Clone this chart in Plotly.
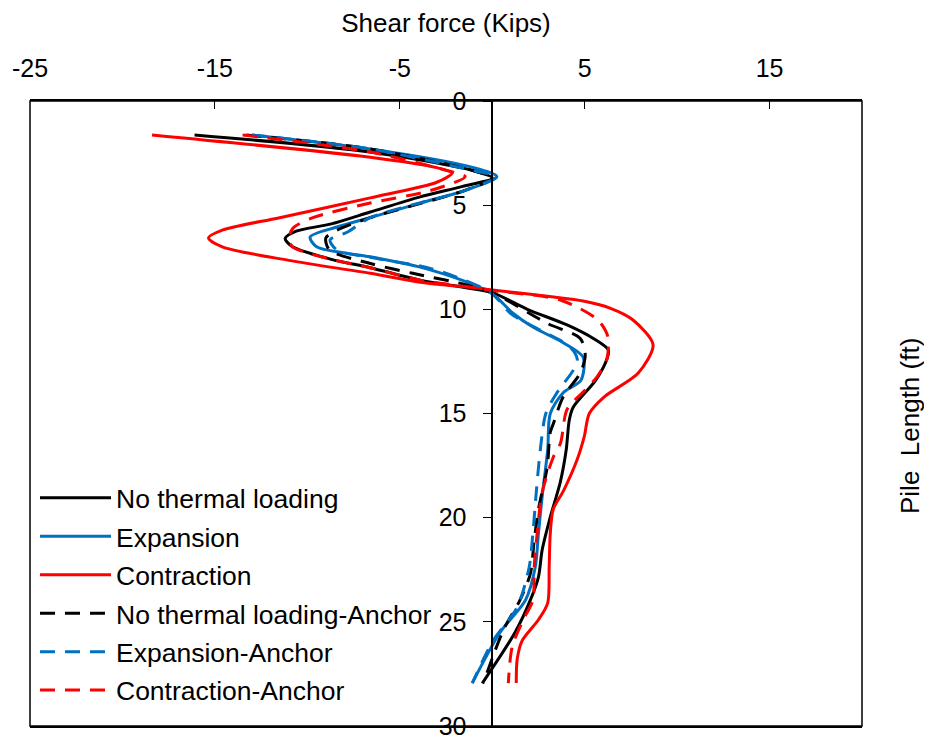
import plotly.graph_objects as go

# Depth (ft) and shear force (kips) for each series
nt_depth = [1.63, 2.45, 3.35, 3.7, 4.1, 4.6, 5.33, 5.9, 6.25, 6.6, 7.0, 7.6, 8.0, 8.6, 8.95, 9.2, 10.0, 10.75, 11.4, 11.95, 12.4, 13.4, 14.7, 15.3, 16.75, 18.3, 19.97, 21.55, 22.85, 23.96, 25.5, 27.95]
nt_shear = [-16.1, -6.6, -1.0, 0.0, -1.6, -3.9, -6.6, -8.7, -10.6, -11.2, -10.8, -8.7, -6.6, -3.9, -1.5, 0.0, 1.9, 4.05, 5.47, 6.28, 6.2, 5.6, 4.38, 4.17, 4.0, 3.68, 3.14, 2.7, 2.5, 2.06, 1.24, -0.54]

ex_depth = [1.63, 2.3, 3.2, 3.63, 4.3, 4.9, 5.6, 6.05, 6.53, 7.0, 7.48, 7.95, 8.65, 9.25, 10.2, 10.85, 11.6, 12.3, 13.4, 14.0, 15.0, 16.75, 19.0, 20.75, 22.37, 23.96, 25.5, 27.94]
ex_shear = [-13.0, -6.6, -1.0, 0.25, -1.5, -3.9, -6.6, -8.4, -9.85, -9.5, -6.6, -4.0, -1.5, 0.0, 1.14, 2.2, 3.84, 4.92, 4.8, 3.84, 3.14, 3.0, 2.7, 2.5, 2.33, 1.8, 0.43, -1.08]

co_depth = [1.63, 2.7, 3.2, 3.46, 3.9, 4.65, 5.6, 6.2, 6.58, 7.0, 7.65, 8.27, 8.7, 8.98, 9.07, 9.6, 9.95, 10.5, 11.7, 13.06, 14.2, 15.0, 16.1, 17.2, 18.7, 19.6, 20.75, 22.37, 24.1, 24.9, 25.9, 26.8, 27.94]
co_shear = [-18.4, -6.6, -3.0, -2.18, -3.0, -6.6, -11.5, -14.6, -15.35, -14.6, -11.0, -6.6, -3.9, -0.8, 0.0, 4.92, 6.4, 7.6, 8.7, 7.9, 6.06, 5.25, 4.98, 4.6, 3.86, 3.3, 3.14, 3.08, 3.0, 2.5, 1.62, 1.35, 1.3]

nta_depth = [1.63, 2.3, 3.35, 3.7, 4.3, 5.6, 6.2, 6.58, 7.15, 7.8, 8.27, 8.8, 9.2, 10.67, 11.4, 12.2, 13.06, 14.2, 15.5, 15.9, 17.6, 19.6, 21.1, 22.7, 23.96, 25.4, 27.94]
nta_shear = [-13.3, -6.6, -1.0, 0.0, -1.5, -6.6, -8.4, -9.0, -8.8, -6.6, -4.3, -1.5, 0.0, 2.97, 4.76, 5.03, 4.76, 3.84, 3.3, 3.14, 2.97, 2.5, 2.27, 2.06, 1.5, 0.6, -0.48]

exa_depth = [1.63, 2.3, 3.35, 3.63, 4.3, 5.6, 6.3, 6.67, 7.15, 7.55, 8.0, 8.6, 9.25, 10.2, 11.0, 11.8, 12.4, 12.9, 14.0, 15.0, 16.75, 18.8, 20.75, 22.37, 24.3, 25.9, 27.94]
exa_shear = [-13.0, -6.6, -1.0, 0.25, -1.5, -6.6, -7.85, -8.77, -8.4, -6.3, -3.5, -1.5, 0.0, 1.0, 2.6, 4.2, 4.6, 4.4, 3.5, 2.9, 2.6, 2.38, 2.2, 2.0, 1.35, 0.05, -1.08]

coa_depth = [1.63, 2.45, 3.35, 3.63, 4.3, 4.9, 5.6, 6.1, 6.6, 7.0, 7.6, 8.0, 8.6, 8.98, 9.1, 9.55, 10.5, 11.3, 12.4, 13.2, 13.9, 14.8, 16.4, 17.1, 18.8, 20.75, 22.37, 23.96, 24.9, 26.2, 27.94]
coa_shear = [-13.5, -6.6, -2.4, -1.46, -3.35, -6.6, -9.7, -10.77, -11.0, -10.8, -8.7, -6.6, -3.9, -0.8, 0.0, 3.68, 5.7, 6.25, 6.2, 5.7, 5.0, 4.05, 3.7, 3.3, 2.7, 2.43, 2.27, 2.2, 1.68, 1.08, 0.87]

x_ticks = [-25, -15, -5, 5, 15]
y_ticks = [0, 5, 10, 15, 20, 25, 30]

BLACK = "#000000"
BLUE = "#0070C0"
RED = "#FF0000"
DASH = "15px,10px"

series = [
    ("No thermal loading", nt_shear, nt_depth, BLACK, "solid"),
    ("Expansion", ex_shear, ex_depth, BLUE, "solid"),
    ("Contraction", co_shear, co_depth, RED, "solid"),
    ("No thermal loading-Anchor", nta_shear, nta_depth, BLACK, DASH),
    ("Expansion-Anchor", exa_shear, exa_depth, BLUE, DASH),
    ("Contraction-Anchor", coa_shear, coa_depth, RED, DASH),
]

fig = go.Figure()
for i, (name, xs, ys, col, dash) in enumerate(series):
    fig.add_trace(go.Scatter(
        x=xs, y=ys, name=name, mode="lines",
        line=dict(color=col, width=3, dash=dash, shape="spline", smoothing=0.8),
        legendgroup=f"g{i}",
    ))

FONT = "Liberation Sans, Arial, sans-serif"
FS = 26
TFS = 25
x_min, x_max = -25, 20

# The page body has an 8px default margin, so the figure is sized to fit the window.
fig.update_layout(
    width=924, height=732,
    margin=dict(l=22, r=70, t=93, b=14),
    paper_bgcolor="white", plot_bgcolor="white",
    font=dict(family=FONT, size=FS, color="black"),
    showlegend=True,
    legend=dict(
        x=0.006, y=0.403, xanchor="left", yanchor="top",
        bgcolor="rgba(0,0,0,0)", borderwidth=0,
        font=dict(family=FONT, size=26.5, color="black"),
        tracegroupgap=1, traceorder="grouped",
        itemwidth=71,
    ),
    xaxis=dict(
        side="top", range=[x_min, x_max], automargin=False,
        tickvals=x_ticks, ticktext=[str(v) for v in x_ticks],
        ticks="inside", ticklen=8, tickwidth=1.3, tickcolor="black",
        showline=True, linecolor="black", linewidth=1.8, mirror=True,
        showgrid=False, zeroline=False,
        ticklabelstandoff=12,
        tickfont=dict(family=FONT, size=TFS),
        title=dict(text="Shear force (Kips)", font=dict(family=FONT, size=FS), standoff=20),
    ),
    yaxis=dict(
        range=[30, 0], anchor="free", position=(0 - x_min) / (x_max - x_min), side="left",
        automargin=False,
        tickvals=y_ticks, ticktext=[str(v) for v in y_ticks],
        ticks="outside", ticklen=8, tickwidth=1.3, tickcolor="black",
        showline=True, linecolor="black", linewidth=1.5,
        showgrid=False, zeroline=False,
        ticklabelstandoff=12,
        tickfont=dict(family=FONT, size=TFS),
    ),
    shapes=[dict(type="rect", xref="paper", yref="paper", x0=0, x1=1, y0=0, y1=1,
                 line=dict(color="black", width=1.5), fillcolor="rgba(0,0,0,0)", layer="above")],
    annotations=[dict(text="Pile  Length (ft)", xref="paper", yref="paper",
                      x=1.0, xshift=65, y=0.48, textangle=-90, showarrow=False,
                      font=dict(family=FONT, size=FS, color="black"))],
)

fig.write_html("out.html")
